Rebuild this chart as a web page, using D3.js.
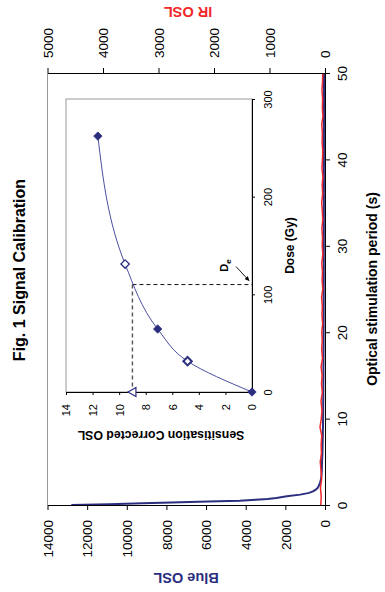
<!DOCTYPE html>
<html><head><meta charset="utf-8">
<script src="https://cdn.jsdelivr.net/npm/d3@7"></script>
<style>
html,body{margin:0;padding:0;background:#fff;}
svg{display:block;font-family:"Liberation Sans",Arial,Helvetica,sans-serif;}
</style></head>
<body><svg id="c" width="385" height="592"></svg>
<script>
// ---------- data ----------
const blueTime = [0,0.1,0.2,0.3,0.4,0.5,0.6,0.7,0.8,1.0,1.2,1.4,1.6,1.8,2.0,2.5,3,3.5,4,5,6,8,10,15,20,25,30,35,40,45,50];
const blueOSL  = [12800,10900,9200,7750,5900,4300,3500,2900,2450,1930,1250,800,580,450,360,260,200,175,160,150,130,110,95,80,70,65,60,57,55,52,50];
const irTime = d3.range(0,51,1);
const irOSL = [75,68,82,60,72,85,64,70,58,90,66,
               55,72,48,63,52,70,45,60,50,58,
               42,55,47,62,40,52,45,58,38,50,
               44,56,40,48,60,42,50,38,55,45,
               40,52,46,58,38,48,42,55,44,40];
const timeTicks = [0,10,20,30,40,50];
const blueTicks = [0,2000,4000,6000,8000,10000,12000,14000];
const irTicks = [0,1000,2000,3000,4000,5000];

// inset
const filledDose = [0,64.5,262];
const filledOSL  = [0,7.1,11.6];
const openDose = [31.5,131];
const openOSL  = [4.85,9.55];
const triDose = [0];
const triOSL  = [9.0];
const curveDose = [0,31.5,64.5,131,262];
const curveOSL  = [0,4.85,7.1,9.55,11.6];
const De = 110;
const doseTicks = [0,100,200,300];
const oslTicks = [0,2,4,6,8,10,12,14];

// ---------- drawing ----------
const navy = "#2b2e7e", red = "#f0282a";
const svg = d3.select("#c");
const tScale = d3.scaleLinear().domain([0,50]).range([505,73]);
const blueScale = d3.scaleLinear().domain([0,14000]).range([325,47.5]);
const irScale = d3.scaleLinear().domain([0,5000]).range([325,47.5]);

// gray frame side
svg.append("line").attr("x1",47.5).attr("x2",47.5).attr("y1",73).attr("y2",505)
  .attr("stroke","#999").attr("stroke-width",1);

// blue curve
const blueData = blueTime.map((t,i)=>({t, v:blueOSL[i]}));
svg.append("path").datum(blueData)
  .attr("d", d3.line().x(d=>blueScale(d.v)).y(d=>tScale(d.t)))
  .attr("fill","none").attr("stroke",navy).attr("stroke-width",2);
// IR curve
const irData = irTime.map((t,i)=>({t, v:irOSL[i]}));
svg.append("path").datum(irData)
  .attr("d", d3.line().x(d=>irScale(d.v)).y(d=>tScale(d.t)))
  .attr("fill","none").attr("stroke",red).attr("stroke-width",1.5);

function styleAxis(g, fs){
  g.select(".domain").attr("stroke","#000").attr("stroke-width",1);
  g.selectAll(".tick line").attr("stroke","#000");
  g.selectAll("text").attr("fill","#000").style("font-size",fs+"px")
    .style("font-family","'Liberation Sans',Arial,sans-serif");
}

// Blue axis (bottom)
const gB = svg.append("g").attr("transform","translate(0,505)")
  .call(d3.axisBottom(blueScale).tickValues(blueTicks).tickSize(5).tickSizeOuter(0).tickFormat(d3.format("d")));
styleAxis(gB, 13.5);
gB.selectAll("text").attr("transform","rotate(-90)").attr("x",-15).attr("y",0).attr("dy","0.35em").attr("text-anchor","end");

// IR axis (top)
const gI = svg.append("g").attr("transform","translate(0,73)")
  .call(d3.axisTop(irScale).tickValues(irTicks).tickSize(5).tickSizeOuter(0).tickFormat(d3.format("d")));
styleAxis(gI, 13.5);
gI.selectAll("text").attr("transform","rotate(-90)").attr("x",15).attr("y",0).attr("dy","0.35em").attr("text-anchor","start");

// Time axis (right)
const gT = svg.append("g").attr("transform","translate(325,0)")
  .call(d3.axisRight(tScale).tickValues(timeTicks).tickSize(5).tickSizeOuter(0));
styleAxis(gT, 13.5);
gT.selectAll("text").attr("transform","rotate(-90)").attr("x",0).attr("y",17).attr("dy","0.35em").attr("text-anchor","middle");

// titles
svg.append("text").attr("transform","translate(25,270) rotate(-90)").attr("text-anchor","middle")
  .style("font-size","16px").style("font-weight","bold").text("Fig. 1 Signal Calibration");
svg.append("text").attr("transform","translate(186,573) rotate(180)").attr("text-anchor","middle")
  .style("font-size","14.5px").style("font-weight","bold").attr("fill",navy).text("Blue OSL");
svg.append("text").attr("transform","translate(188,7) rotate(180)").attr("text-anchor","middle")
  .style("font-size","14.5px").style("font-weight","bold").attr("fill",red).text("IR OSL");
svg.append("text").attr("transform","translate(377,289) rotate(-90)").attr("text-anchor","middle")
  .style("font-size","14px").style("font-weight","bold").text("Optical stimulation period (s)");

// ---------- inset ----------
const doseScale = d3.scaleLinear().domain([0,300]).range([392,99]);
const oslScale = d3.scaleLinear().domain([0,14]).range([252,66]);
svg.append("rect").attr("x",66).attr("y",99).attr("width",186).attr("height",293)
  .attr("fill","#fff").attr("stroke","#999").attr("stroke-width",1);

// dashed lines
const triX = oslScale(triOSL[0]);
svg.append("line").attr("x1",triX).attr("x2",oslScale(0)).attr("y1",doseScale(De)).attr("y2",doseScale(De))
  .attr("stroke","#111").attr("stroke-width",1).attr("stroke-dasharray","4,3");
svg.append("line").attr("x1",triX).attr("x2",triX).attr("y1",doseScale(De)).attr("y2",doseScale(0))
  .attr("stroke","#555").attr("stroke-width",1.4).attr("stroke-dasharray","4,3");

// fitted curve
const cData = curveDose.map((d,i)=>({d, o:curveOSL[i]})).sort((a,b)=>b.d-a.d);
svg.append("path").datum(cData)
  .attr("d", d3.line().curve(d3.curveMonotoneY).x(d=>oslScale(d.o)).y(d=>doseScale(d.d)))
  .attr("fill","none").attr("stroke","#4b4fa0").attr("stroke-width",1);

// inset axes
const gD = svg.append("g").attr("transform","translate(252,0)")
  .call(d3.axisRight(doseScale).tickValues(doseTicks).tickSize(3).tickSizeOuter(0));
styleAxis(gD, 11);
gD.selectAll("text").attr("transform","rotate(-90)").attr("x",0).attr("y",16).attr("dy","0.35em").attr("text-anchor","middle");
const gO = svg.append("g").attr("transform","translate(0,392)")
  .call(d3.axisBottom(oslScale).tickValues(oslTicks).tickSize(3).tickSizeOuter(0));
styleAxis(gO, 11);
gO.selectAll("text").attr("transform","rotate(-90)").attr("x",-12).attr("y",0).attr("dy","0.35em").attr("text-anchor","end");

svg.append("text").attr("transform","translate(294,245.5) rotate(-90)").attr("text-anchor","middle")
  .style("font-size","12px").style("font-weight","bold").text("Dose (Gy)");
svg.append("text").attr("transform","translate(161,431) rotate(180)").attr("text-anchor","middle")
  .style("font-size","12.3px").style("font-weight","bold").text("Sensitisation Corrected OSL");

// markers
const diamond = d3.symbol().type(d3.symbolDiamond2 || d3.symbolSquare).size(40);
const dia = d3.symbol().type(d3.symbolSquare).size(26);
function diamondPath(s){ return `M0,${-s}L${s},0L0,${s}L${-s},0Z`; }
filledDose.forEach((d,i)=>{
  svg.append("path").attr("d",diamondPath(4.2))
    .attr("transform",`translate(${oslScale(filledOSL[i])},${doseScale(d)})`)
    .attr("fill",navy).attr("stroke",navy).attr("stroke-width",0.8);
});
openDose.forEach((d,i)=>{
  svg.append("path").attr("d",diamondPath(4.2))
    .attr("transform",`translate(${oslScale(openOSL[i])},${doseScale(d)})`)
    .attr("fill","#fff").attr("stroke",navy).attr("stroke-width", i===0?2:1.3);
});
triDose.forEach((d,i)=>{
  svg.append("path").attr("d","M-4.5,0L3.5,-4.5L3.5,4.5Z")
    .attr("transform",`translate(${oslScale(triOSL[i])},${doseScale(d)})`)
    .attr("fill","#fff").attr("stroke",navy).attr("stroke-width",1.2);
});

// De annotation
const ax = oslScale(0)-3, ay = doseScale(De)-4;
svg.append("defs").append("marker").attr("id","ah").attr("viewBox","0 0 10 10").attr("refX",9).attr("refY",5)
  .attr("markerWidth",5).attr("markerHeight",5).attr("orient","auto")
  .append("path").attr("d","M0,0L10,5L0,10Z").attr("fill","#000");
svg.append("line").attr("x1",ax-13).attr("y1",ay-14).attr("x2",ax).attr("y2",ay)
  .attr("stroke","#000").attr("stroke-width",0.9).attr("marker-end","url(#ah)");
const de = svg.append("text").attr("transform",`translate(${ax-21},${ay-15}) rotate(-90)`)
  .attr("text-anchor","middle").style("font-size","11px").style("font-weight","bold");
de.append("tspan").text("D");
de.append("tspan").attr("dy","3").style("font-size","8px").text("e");
</script></body></html>
